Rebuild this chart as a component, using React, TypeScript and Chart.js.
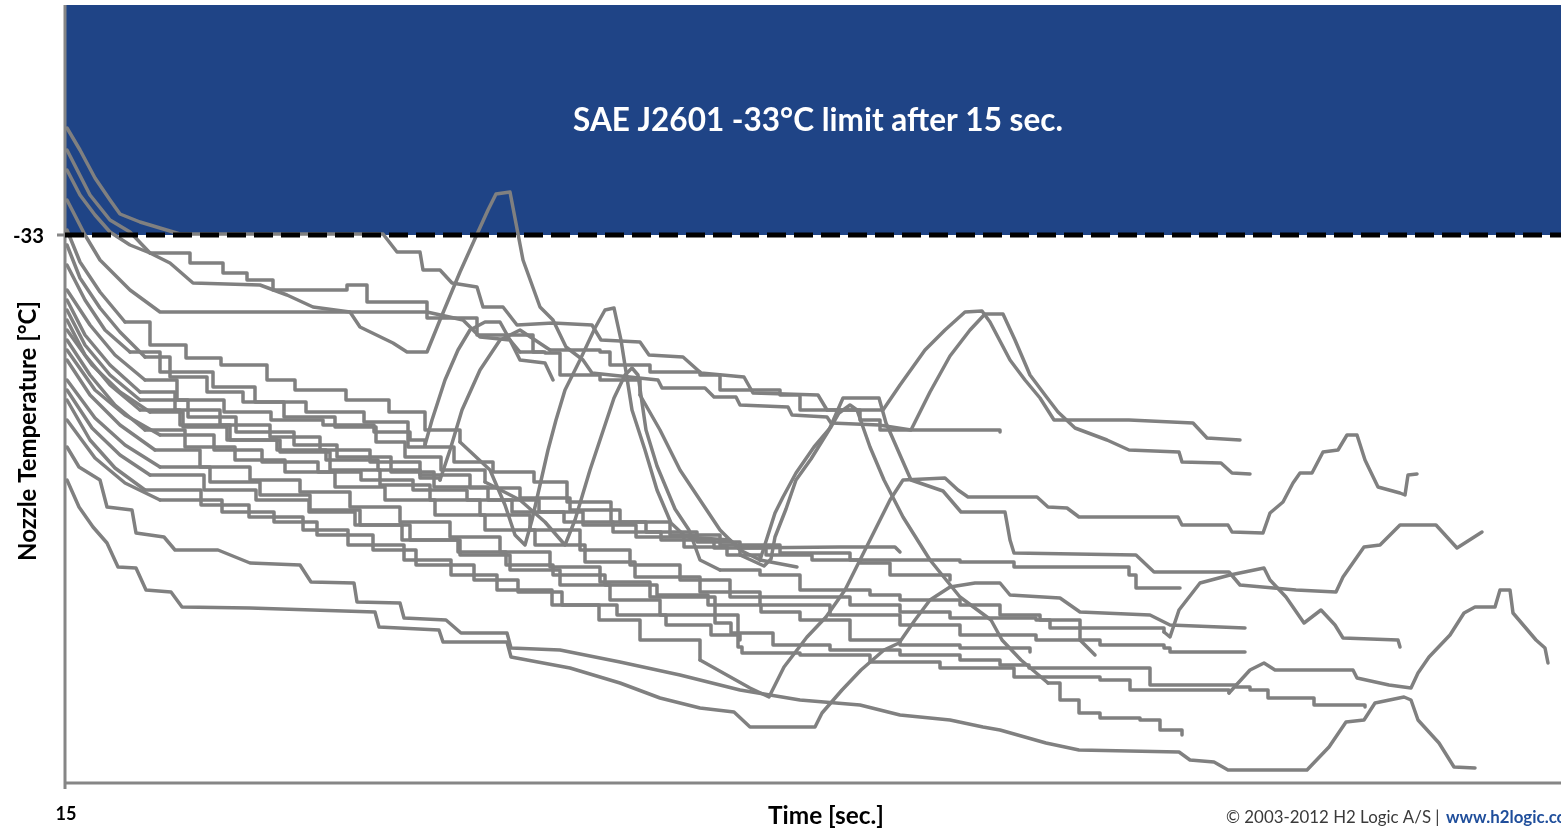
import React, { useEffect, useRef } from "react";
import { Chart, registerables } from "chart.js";
Chart.register(...registerables);

// ---- scale / labels ----
const X_MIN = 15;
const X_MAX = 164.6;
const Y_MIN = -43.96;
const Y_MAX = -28.4;
const LIMIT_TEMP = -33;
const xTickValues = [15];
const yTickValues = [-33];
const titleText = "SAE J2601 -33°C limit after 15 sec.";
const xAxisTitle = "Time [sec.]";
const yAxisTitle = "Nozzle Temperature [°C]";
const copyrightText = "© 2003-2012 H2 Logic A/S | ";
const linkText = "www.h2logic.com";

// ---- series: [time s, nozzle temperature °C] ----
const run01 = [[15.2,-31.7],[16.5,-32.2],[18.0,-32.6],[19.5,-32.94],[21.5,-33.2],[23.5,-33.36],[25.5,-33.56],[27.8,-33.96],[34.5,-34.0],[37.2,-34.2],[39.8,-34.44],[43.5,-34.54],[44.5,-34.84],[47.8,-35.16],[49.2,-35.34],[51.2,-35.34],[52.5,-34.7],[54.5,-33.74],[56.3,-32.94],[57.3,-32.5],[58.1,-32.18],[59.5,-32.14],[60.8,-33.5],[62.5,-34.44],[63.8,-34.7],[65.1,-35.24],[66.8,-35.5],[67.7,-35.76],[74.3,-35.9],[74.7,-36.06],[79.0,-36.06],[79.9,-36.24],[82.1,-36.24],[82.5,-36.4],[87.3,-36.44],[87.7,-36.6],[91.2,-36.64],[91.6,-36.76],[96.4,-36.8],[99.6,-36.9],[101.5,-36.14],[103.5,-35.42],[105.5,-34.9],[107.0,-34.58],[108.8,-34.58],[110.0,-35.1],[111.5,-35.8],[113.0,-36.2],[114.3,-36.54],[116.0,-36.86],[119.2,-37.1],[121.4,-37.3],[126.4,-37.34],[126.7,-37.54],[130.6,-37.56],[131.7,-37.76],[133.5,-37.78]];
const run02 = [[15.2,-30.86],[16.5,-31.3],[18.0,-31.86],[19.5,-32.3],[20.5,-32.58],[22.5,-32.74],[24.5,-32.86],[26.5,-32.98],[46.8,-32.98],[48.2,-33.34],[50.5,-33.34],[50.8,-33.7],[52.5,-33.7],[53.7,-33.96],[56.2,-34.04],[56.8,-34.44],[58.8,-34.44],[60.2,-34.8],[63.8,-34.76],[67.7,-34.8],[68.6,-35.1],[72.5,-35.14],[73.4,-35.4],[76.8,-35.44],[78.6,-35.76],[82.9,-35.84],[83.8,-36.16],[90.3,-36.2],[91.2,-36.5],[96.8,-36.5],[98.5,-36.0],[101.0,-35.3],[103.0,-34.9],[105.0,-34.54],[106.7,-34.52],[107.5,-34.74],[109.5,-35.5],[111.0,-35.9],[112.5,-36.26],[113.9,-36.7],[121.4,-36.7],[127.8,-36.76],[129.2,-37.06],[132.5,-37.1]];
const run03 = [[15.2,-31.3],[17.5,-32.2],[19.5,-32.7],[21.5,-32.94],[23.5,-33.36],[26.2,-33.36],[27.5,-33.56],[30.8,-33.76],[33.2,-33.9],[35.8,-34.1],[43.2,-34.0],[45.2,-34.34],[49.8,-34.34],[51.2,-34.66],[54.8,-34.66],[56.2,-35.0],[60.5,-35.0],[61.8,-35.34],[62.8,-35.34]];
const run04 = [[15.2,-32.3],[17.0,-33.0],[18.5,-33.5],[21.5,-34.1],[24.5,-34.54],[51.2,-34.54],[54.8,-34.7],[56.5,-35.04],[59.5,-35.1],[60.5,-35.5],[63.0,-35.56],[63.8,-35.9]];
const run05 = [[15.2,-32.9],[16.5,-33.54],[18.5,-34.14],[21.0,-34.74],[23.5,-35.2],[27.1,-35.46],[30.6,-35.6],[35.2,-35.9],[38.0,-36.1],[43.1,-36.3],[47.4,-36.54],[51.0,-36.9],[54.5,-37.14],[57.5,-37.7],[59.0,-38.4],[60.0,-39.0],[61.0,-39.2],[61.7,-38.7],[62.5,-38.0],[63.3,-37.3],[64.1,-36.7],[65.0,-36.1],[66.5,-35.5],[68.0,-34.86],[69.0,-34.5],[69.9,-34.46],[70.6,-35.1],[71.7,-36.5],[73.0,-37.3],[74.2,-38.1],[75.6,-38.76],[77.1,-39.04],[81.5,-39.1],[82.5,-39.26],[92.5,-39.24],[98.0,-39.24],[98.5,-39.34]];
const run06 = [[15.2,-33.2],[16.5,-33.86],[18.5,-34.46],[20.5,-34.94],[23.0,-35.44],[25.5,-35.84],[29.2,-36.14],[32.8,-36.34],[36.9,-36.64],[42.0,-36.84],[46.1,-37.14],[49.0,-37.44],[52.6,-37.7],[57.0,-37.94],[60.5,-38.3],[63.0,-38.74],[65.0,-39.2],[66.0,-38.7],[67.5,-37.7],[68.5,-37.1],[69.9,-36.26],[71.0,-35.8],[71.7,-35.66],[72.3,-35.8],[73.1,-36.9],[74.2,-37.62],[76.0,-38.48],[77.4,-38.9],[78.5,-39.5],[80.5,-39.7],[84.5,-39.8],[88.5,-40.1],[95.5,-40.2],[98.5,-40.3],[104.5,-40.4],[108.5,-40.6],[112.5,-40.7],[116.5,-41.1],[118.0,-41.4]];
const run07 = [[15.2,-33.6],[17.0,-34.3],[19.0,-34.9],[21.5,-35.34],[24.5,-35.74],[29.8,-36.04],[34.0,-36.34],[39.1,-36.54],[44.9,-36.74],[49.3,-37.24],[53.9,-37.54],[57.8,-37.74],[61.9,-37.94],[65.2,-38.34],[69.6,-38.74],[73.1,-38.94],[78.2,-39.14],[82.5,-39.4],[84.9,-39.62],[85.6,-39.48],[86.0,-39.04],[87.1,-38.48],[88.1,-37.9],[89.6,-37.48],[91.4,-36.9],[92.8,-36.26],[96.4,-36.26],[97.1,-36.76],[98.5,-37.4],[99.6,-37.9],[102.8,-38.12],[104.6,-38.54],[109.0,-38.54],[109.5,-39.1],[109.9,-39.36],[122.1,-39.4],[123.9,-39.74],[131.4,-39.74],[132.5,-40.0],[138.1,-40.1],[142.1,-40.14],[142.8,-39.84],[144.9,-39.24],[146.5,-39.2],[148.5,-38.8],[152.1,-38.8],[154.2,-39.26],[156.7,-38.94]];
const run08 = [[15.2,-36.3],[17.5,-37.1],[20.0,-37.66],[23.0,-38.1],[28.6,-38.4],[33.4,-38.64],[38.8,-38.9],[43.3,-39.2],[48.9,-39.5],[53.6,-39.8],[58.2,-40.1],[63.7,-40.4],[68.4,-40.7],[72.5,-41.1],[78.5,-41.5],[83.5,-42.06],[85.4,-42.24],[86.9,-41.64],[89.2,-41.04],[91.1,-40.64],[93.0,-40.1],[94.5,-39.5],[96.0,-38.9],[97.5,-38.3],[98.8,-37.9],[103.0,-37.86],[104.3,-38.1],[105.3,-38.24],[112.2,-38.24],[113.3,-38.44],[115.2,-38.46],[116.4,-38.64],[126.3,-38.64],[126.7,-38.8],[131.3,-38.8],[131.7,-38.94],[134.8,-38.96],[135.5,-38.56],[136.8,-38.34],[137.8,-37.96],[138.5,-37.76],[139.7,-37.76],[140.8,-37.34],[142.3,-37.3],[143.2,-37.0],[144.2,-37.0],[145.0,-37.5],[146.3,-38.04],[148.5,-38.16],[149.0,-38.2],[149.3,-37.8],[150.2,-37.78]];
const run09 = [[15.2,-34.3],[17.0,-35.0],[19.5,-35.6],[22.5,-36.14],[26.0,-36.5],[30.5,-36.8],[35.5,-37.04],[40.5,-37.3],[45.5,-37.54],[50.5,-37.8],[55.5,-38.06],[60.5,-38.26],[65.5,-38.5],[70.5,-38.74],[75.5,-39.0],[80.5,-39.2],[86.5,-39.36],[93.5,-39.5],[98.5,-39.5],[104.5,-39.54],[108.5,-39.54],[109.9,-39.64],[121.4,-39.8],[122.1,-40.06],[126.5,-40.06]];
const run10 = [[15.2,-34.7],[17.0,-35.4],[19.5,-36.0],[22.5,-36.5],[26.5,-36.8],[31.5,-37.1],[36.5,-37.34],[41.5,-37.7],[46.5,-38.0],[51.5,-38.3],[56.5,-38.6],[61.5,-38.9],[66.5,-39.3],[71.5,-39.6],[76.5,-39.9],[81.5,-40.24],[89.2,-40.24],[93.5,-40.4],[98.5,-40.54],[103.5,-40.66],[108.5,-40.66],[112.1,-40.7],[113.5,-40.86],[118.5,-40.86],[124.9,-40.94],[125.5,-41.04],[126.4,-40.5],[128.5,-39.96],[131.5,-39.8],[134.9,-39.66],[135.5,-39.9],[137.1,-40.24],[138.9,-40.76],[140.6,-40.5],[142.0,-40.8],[142.8,-41.06],[148.3,-41.1],[148.5,-41.24]];
const run11 = [[15.2,-35.1],[17.5,-35.8],[20.0,-36.4],[23.0,-36.9],[27.0,-37.24],[32.0,-37.5],[37.0,-37.74],[42.0,-38.04],[47.0,-38.3],[52.0,-38.6],[57.0,-38.9],[62.0,-39.2],[67.0,-39.54],[72.0,-39.84],[78.5,-40.14],[84.5,-40.4],[91.5,-40.6],[98.5,-40.8],[104.5,-41.0],[112.1,-41.1],[118.5,-41.2],[124.9,-41.26],[125.5,-41.34],[133.0,-41.34]];
const run12 = [[15.2,-35.5],[17.5,-36.2],[20.5,-36.8],[24.0,-37.3],[28.5,-37.64],[33.5,-37.9],[38.5,-38.14],[43.5,-38.44],[48.5,-38.74],[53.5,-39.04],[58.5,-39.34],[63.5,-39.64],[68.5,-39.94],[73.5,-40.24],[80.0,-40.76],[81.6,-40.96],[85.8,-41.2],[91.5,-41.3],[98.5,-41.4],[104.5,-41.5],[108.5,-41.6],[111.4,-41.66],[122.0,-41.66],[123.5,-42.0],[132.1,-42.04],[133.5,-42.1],[135.3,-42.26],[139.9,-42.4],[145.0,-42.44]];
const run13 = [[15.2,-35.9],[18.0,-36.66],[21.0,-37.2],[24.5,-37.64],[29.5,-37.94],[34.5,-38.2],[39.5,-38.5],[44.5,-38.8],[49.5,-39.1],[54.5,-39.4],[59.5,-39.7],[64.5,-40.0],[69.5,-40.3],[74.5,-40.6],[82.3,-41.24],[82.7,-41.36],[88.5,-41.4],[95.5,-41.54],[102.5,-41.66],[109.9,-41.84],[118.5,-41.9],[121.5,-42.1],[131.4,-42.16],[133.5,-41.7],[134.9,-41.56],[136.0,-41.7],[143.8,-41.7],[144.2,-41.86],[147.4,-42.0],[149.6,-42.06],[150.3,-41.76],[151.4,-41.44],[153.5,-41.0],[154.9,-40.56],[156.0,-40.44],[158.0,-40.44],[158.5,-40.1],[159.5,-40.1],[159.8,-40.56],[162.1,-41.1],[163.0,-41.26],[163.3,-41.56]];
const run14 = [[15.2,-37.9],[16.4,-38.44],[17.8,-38.84],[19.2,-39.16],[20.3,-39.64],[22.1,-39.66],[23.1,-40.1],[25.6,-40.14],[26.7,-40.44],[33.5,-40.46],[46.0,-40.54],[46.4,-40.84],[52.4,-40.9],[52.8,-41.14],[59.2,-41.14],[59.6,-41.44],[65.5,-41.66],[70.5,-41.96],[74.5,-42.26],[78.5,-42.46],[81.9,-42.54],[83.5,-42.84],[90.0,-42.84],[90.7,-42.56],[92.7,-42.1],[94.6,-41.7],[96.9,-41.3],[98.4,-41.16],[100.0,-40.7],[101.5,-40.3],[103.5,-40.04],[106.0,-39.96],[108.5,-39.96],[109.5,-40.2],[114.5,-40.26],[116.5,-40.54],[123.5,-40.6],[125.5,-40.8],[133.0,-40.86]];
const run15 = [[15.2,-37.24],[16.4,-37.64],[18.5,-37.9],[19.2,-38.44],[21.7,-38.5],[22.1,-38.96],[24.9,-39.04],[26.0,-39.3],[30.3,-39.3],[33.5,-39.56],[38.5,-39.6],[39.6,-39.94],[43.9,-39.96],[44.2,-40.34],[48.5,-40.36],[48.9,-40.66],[53.1,-40.7],[54.6,-40.96],[59.2,-40.96],[59.6,-41.26],[64.5,-41.3],[70.5,-41.54],[76.5,-41.8],[82.5,-42.1],[88.5,-42.3],[94.5,-42.4],[98.5,-42.6],[103.5,-42.7],[106.8,-42.84],[108.5,-42.9],[113.1,-43.16],[116.4,-43.3],[126.4,-43.34],[127.5,-43.5],[129.9,-43.54],[131.3,-43.7],[139.2,-43.7],[141.4,-43.24],[143.1,-42.74],[144.9,-42.7],[146.0,-42.36],[148.9,-42.24],[149.6,-42.3],[150.3,-42.7],[152.4,-43.16],[153.9,-43.64],[156.0,-43.66]];
const run16 = [[15.2,-34.5],[17.0,-35.2],[19.5,-35.8],[22.5,-36.3],[27.3,-36.64],[32.1,-36.94],[37.9,-37.2],[42.2,-37.44],[47.6,-37.74],[51.9,-38.04],[57.3,-38.3],[62.4,-38.54],[66.8,-38.8],[72.1,-39.04],[76.9,-39.24],[81.2,-39.4],[84.5,-39.5],[86.0,-38.56],[86.8,-38.24],[88.1,-37.76],[89.9,-37.24],[91.6,-36.84],[92.4,-36.56],[93.5,-36.4],[94.2,-36.5],[95.5,-37.24],[96.9,-37.9],[98.8,-38.64],[101.5,-39.5],[104.5,-40.24],[107.6,-40.7],[108.7,-41.1],[110.6,-41.5],[113.3,-41.96],[114.5,-42.3],[116.4,-42.56],[118.5,-42.66],[122.5,-42.7],[124.5,-42.9],[126.7,-43.0]];
const run17 = [[15.2,-34.1],[17.5,-34.8],[20.0,-35.4],[23.0,-35.9],[26.2,-36.3],[30.9,-36.54],[35.6,-36.7],[40.8,-36.8],[45.9,-36.94],[49.5,-37.1],[51.0,-37.2],[51.7,-36.7],[53.0,-35.9],[54.3,-35.3],[55.5,-34.9],[57.0,-34.74],[58.5,-34.74],[59.5,-35.1],[60.5,-35.34],[63.0,-35.36],[64.5,-35.8],[68.5,-35.9],[72.5,-36.2],[74.5,-36.9],[76.5,-37.7],[78.5,-38.3],[80.5,-38.9],[82.5,-39.3],[84.5,-39.5],[88.2,-39.64]];
const run18 = [[15.2,-34.9],[17.7,-35.6],[20.5,-36.14],[23.5,-36.54],[26.8,-36.84],[31.2,-37.1],[36.2,-37.3],[41.1,-37.5],[46.3,-37.7],[50.5,-37.86],[52.5,-37.9],[53.5,-37.3],[54.7,-36.5],[56.5,-35.7],[58.5,-35.1],[60.5,-34.9],[62.0,-35.1],[63.5,-35.3],[68.5,-35.34],[69.5,-35.6],[73.5,-35.74],[78.5,-35.8],[80.5,-36.1],[86.5,-36.2],[88.5,-36.5],[94.5,-36.7],[96.5,-36.9],[108.5,-36.94]];
const run19 = [[15.2,-35.3],[18.0,-36.1],[21.0,-36.6],[24.5,-37.0],[29.9,-37.3],[34.7,-37.54],[40.3,-37.74],[44.6,-37.9],[49.8,-38.1],[55.2,-38.3],[59.7,-38.54],[64.9,-38.74],[69.8,-38.94],[74.6,-39.1],[79.9,-39.26],[85.1,-39.4],[89.7,-39.5],[94.5,-39.56],[97.5,-39.8],[103.5,-39.9]];
const run20 = [[15.2,-36.1],[17.7,-36.86],[20.5,-37.4],[23.5,-37.8],[28.9,-38.1],[34.1,-38.3],[39.4,-38.54],[44.0,-38.8],[48.7,-39.1],[54.3,-39.34],[59.1,-39.6],[63.8,-39.8],[69.0,-40.0],[74.2,-40.2],[79.3,-40.4],[84.6,-40.54],[88.5,-40.7],[93.5,-41.1],[98.5,-41.2],[104.5,-41.26],[111.5,-41.34]];
const run21 = [[15.2,-36.7],[18.0,-37.46],[21.0,-37.96],[24.5,-38.3],[30.7,-38.54],[35.9,-38.74],[40.2,-39.0],[45.8,-39.3],[50.1,-39.6],[55.9,-39.9],[60.3,-40.14],[64.7,-40.4],[70.2,-40.6],[75.1,-40.8],[79.6,-41.0],[82.5,-41.1]];

const runs = [run01, run02, run03, run04, run05, run06, run07, run08, run09, run10, run11, run12, run13, run14, run15, run16, run17, run18, run19, run20, run21];

// point-index ranges of each run that are drawn as plateaus (stepped); the rest is drawn straight
const plateauRanges: [number, number][][] = [
  [], [], [[4, 18]], [], [[3, 12]], [[4, 13], [29, 37]], [[3, 17]], [[3, 14]], [[3, 24]], [[3, 24]],
  [[3, 23]], [[3, 28]], [[3, 22]], [], [], [[3, 16], [33, 39]], [[3, 10], [18, 22]], [[3, 10], [17, 27]],
  [[3, 19]], [[3, 20]], [[3, 15]],
];

const LINE_GRAY = "rgb(128,128,128)";
const AXIS_GRAY = "rgb(134,134,134)";
const BAND_BLUE = "rgb(31,68,134)";
const LINK_BLUE = "rgb(31,78,155)";
const FONT = "Lato, 'Open Sans', 'DejaVu Sans', sans-serif";

function fitFont(ctx: CanvasRenderingContext2D, text: string, weight: string, target: number) {
  ctx.font = `${weight} 100px ${FONT}`;
  const w = ctx.measureText(text).width;
  const size = (100 * target) / w;
  ctx.font = `${weight} ${size}px ${FONT}`;
  return size;
}

const decorPlugin = {
  id: "decor",
  beforeDatasetsDraw(chart: any) {
    const { ctx, chartArea, scales } = chart;
    const yLim = scales.y.getPixelForValue(LIMIT_TEMP);
    ctx.save();
    ctx.fillStyle = BAND_BLUE;
    ctx.fillRect(chartArea.left, chartArea.top, chartArea.right - chartArea.left, yLim - chartArea.top);
    ctx.restore();
  },
  afterDatasetsDraw(chart: any) {
    const { ctx, chartArea, scales } = chart;
    const { left, right, top, bottom } = chartArea;
    const yLim = scales.y.getPixelForValue(LIMIT_TEMP);
    ctx.save();
    ctx.strokeStyle = AXIS_GRAY;
    ctx.lineWidth = 3;
    ctx.beginPath();
    ctx.moveTo(left, top);
    ctx.lineTo(left, bottom + 6);
    ctx.moveTo(left - 1.5, bottom);
    ctx.lineTo(right, bottom);
    yTickValues.forEach((v) => {
      const py = scales.y.getPixelForValue(v);
      ctx.moveTo(left - 8, py);
      ctx.lineTo(left, py);
    });
    ctx.stroke();
    ctx.strokeStyle = "#000";
    ctx.lineWidth = 5;
    ctx.setLineDash([19, 8]);
    ctx.beginPath();
    ctx.moveTo(left, yLim);
    ctx.lineTo(right, yLim);
    ctx.stroke();
    ctx.setLineDash([]);

    ctx.textBaseline = "middle";
    ctx.fillStyle = "#fff";
    ctx.textAlign = "center";
    fitFont(ctx, titleText, "bold", 490);
    ctx.fillText(titleText, 818, 121);

    ctx.fillStyle = "#000";
    yTickValues.forEach((v) => {
      const py = scales.y.getPixelForValue(v);
      ctx.textAlign = "right";
      fitFont(ctx, String(v), "bold", 31);
      ctx.fillText(String(v), 44, py + 1);
    });
    xTickValues.forEach((v) => {
      const px = scales.x.getPixelForValue(v);
      ctx.textAlign = "center";
      fitFont(ctx, String(v), "bold", 21);
      ctx.fillText(String(v), px + 1, 814);
    });
    ctx.textAlign = "center";
    fitFont(ctx, xAxisTitle, "bold", 116);
    ctx.fillText(xAxisTitle, 826, 816);

    ctx.save();
    ctx.translate(28, 431);
    ctx.rotate(-Math.PI / 2);
    fitFont(ctx, yAxisTitle, "bold", 260);
    ctx.fillText(yAxisTitle, 0, 0);
    ctx.restore();

    ctx.textAlign = "left";
    ctx.fillStyle = "#3a3a3a";
    const size = fitFont(ctx, copyrightText, "normal", 218);
    ctx.fillText(copyrightText, 1226, 818);
    ctx.fillStyle = LINK_BLUE;
    ctx.font = `bold ${size}px ${FONT}`;
    ctx.fillText(linkText, 1446, 818);
    ctx.restore();
  },
};

function buildDatasets() {
  const out: any[] = [];
  runs.forEach((run, i) => {
    const pts = run.map(([x, y]) => ({ x, y }));
    const pieces: { from: number; to: number; stepped: boolean }[] = [];
    let cursor = 0;
    for (const [a, b] of plateauRanges[i] || []) {
      if (a > cursor) pieces.push({ from: cursor, to: a, stepped: false });
      pieces.push({ from: a, to: b, stepped: true });
      cursor = b;
    }
    if (cursor < pts.length - 1) pieces.push({ from: cursor, to: pts.length - 1, stepped: false });
    pieces.forEach((p, k) => {
      out.push({
        label: `run ${i + 1}.${k}`,
        data: pts.slice(p.from, p.to + 1),
        borderColor: LINE_GRAY,
        borderWidth: 3.5,
        pointRadius: 0,
        pointHoverRadius: 0,
        fill: false,
        tension: 0,
        stepped: p.stepped ? "before" : false,
        borderJoinStyle: "round",
        borderCapStyle: "round",
      });
    });
  });
  return out;
}

export default function App() {
  const canvasRef = useRef<HTMLCanvasElement | null>(null);
  useEffect(() => {
    document.body.style.margin = "0";
    const canvas = canvasRef.current;
    if (!canvas) return;
    const chart = new Chart(canvas, {
      type: "line",
      data: { datasets: buildDatasets() },
      options: {
        responsive: false,
        animation: false,
        devicePixelRatio: 1,
        events: [],
        layout: { padding: { left: 65, top: 5, right: 0, bottom: 46 } },
        plugins: { legend: { display: false }, tooltip: { enabled: false }, title: { display: false } },
        scales: {
          x: { type: "linear", min: X_MIN, max: X_MAX, display: false },
          y: { type: "linear", min: Y_MIN, max: Y_MAX, display: false },
        },
      },
      plugins: [decorPlugin],
    });
    return () => chart.destroy();
  }, []);
  return (
    <div style={{ position: "fixed", left: 0, top: 0, width: 1561, height: 829, background: "#fff" }}>
      <canvas ref={canvasRef} width={1561} height={829} style={{ width: 1561, height: 829, display: "block" }} />
    </div>
  );
}
